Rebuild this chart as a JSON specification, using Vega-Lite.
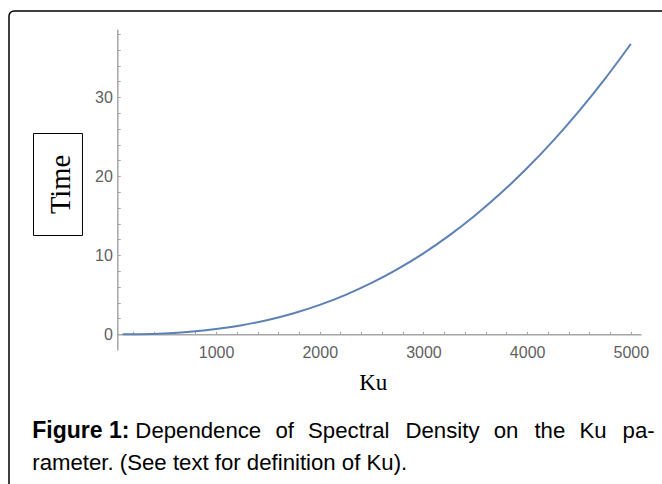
{
  "$schema": "https://vega.github.io/schema/vega-lite/v6.json",
  "width": 663,
  "height": 483,
  "autosize": "none",
  "padding": {"left": 9, "top": 11, "right": 0, "bottom": 0},
  "background": "white",
  "config": {
    "view": {"stroke": "black", "strokeWidth": 1.5, "cornerRadius": 5, "fill": "white"}
  },
  "data": {
    "values": [
      {"Ku": 100, "Time": 0.002},
      {"Ku": 250, "Time": 0.021},
      {"Ku": 500, "Time": 0.116},
      {"Ku": 750, "Time": 0.320},
      {"Ku": 1000, "Time": 0.657},
      {"Ku": 1250, "Time": 1.148},
      {"Ku": 1500, "Time": 1.812},
      {"Ku": 1750, "Time": 2.663},
      {"Ku": 2000, "Time": 3.719},
      {"Ku": 2250, "Time": 4.992},
      {"Ku": 2500, "Time": 6.497},
      {"Ku": 2750, "Time": 8.245},
      {"Ku": 3000, "Time": 10.248},
      {"Ku": 3250, "Time": 12.518},
      {"Ku": 3500, "Time": 15.066},
      {"Ku": 3750, "Time": 17.902},
      {"Ku": 4000, "Time": 21.037},
      {"Ku": 4250, "Time": 24.480},
      {"Ku": 4500, "Time": 28.240},
      {"Ku": 4750, "Time": 32.326},
      {"Ku": 5000, "Time": 36.75}
    ]
  },
  "mark": {"type": "line", "color": "#5e81b5", "strokeWidth": 2, "interpolate": "monotone"},
  "encoding": {
    "x": {
      "field": "Ku",
      "type": "quantitative",
      "scale": {"domain": [48, 5098], "range": [108.3, 632], "nice": false, "zero": false},
      "axis": {
        "orient": "bottom",
        "offset": -159.7,
        "grid": false,
        "values": [200, 400, 600, 800, 1000, 1200, 1400, 1600, 1800, 2000, 2200, 2400, 2600, 2800, 3000, 3200, 3400, 3600, 3800, 4000, 4200, 4400, 4600, 4800, 5000],
        "format": "d",
        "labelExpr": "datum.value % 1000 === 0 ? datum.label : ''",
        "labelFlush": false,
        "labelOverlap": false,
        "tickSize": -3,
        "labelPadding": 13.4,
        "labelFont": "Liberation Sans",
        "labelFontSize": 16,
        "labelColor": "#5f5f5f",
        "domainColor": "#a6a6a6",
        "domainWidth": 1.5,
        "tickColor": "#a6a6a6",
        "tickWidth": 1,
        "title": "Ku",
        "titleFont": "Liberation Serif",
        "titleFontSize": 23,
        "titleFontWeight": "normal",
        "titleColor": "black",
        "titleX": 363.8,
        "titleY": 55,
        "titleAlign": "center",
        "titleBaseline": "alphabetic"
      }
    },
    "y": {
      "field": "Time",
      "type": "quantitative",
      "scale": {"domain": [-2, 38.6], "range": [339.1, 18.3], "nice": false, "zero": false},
      "axis": {
        "orient": "left",
        "offset": -108.3,
        "grid": false,
        "values": [0, 2, 4, 6, 8, 10, 12, 14, 16, 18, 20, 22, 24, 26, 28, 30, 32, 34, 36, 38],
        "format": "d",
        "labelExpr": "datum.value % 10 === 0 ? datum.label : ''",
        "labelFlush": false,
        "labelOverlap": false,
        "tickSize": -3,
        "labelPadding": 8,
        "labelFont": "Liberation Sans",
        "labelFontSize": 16,
        "labelColor": "#5f5f5f",
        "domainColor": "#a6a6a6",
        "domainWidth": 1.5,
        "tickColor": "#a6a6a6",
        "tickWidth": 1,
        "title": null
      }
    },
    "opacity": {
      "datum": "Time",
      "type": "nominal",
      "scale": {"range": [1]},
      "legend": {
        "orient": "none",
        "legendX": -2.52,
        "legendY": 122,
        "title": null,
        "padding": 0,
        "symbolType": "M-0.48,-1H0.48V1H-0.48Z",
        "symbolSize": 10404,
        "symbolStrokeWidth": 1,
        "symbolStrokeColor": "black",
        "symbolFillColor": "transparent",
        "labelOffset": -48,
        "labelFont": "Liberation Serif",
        "labelFontSize": 28.5,
        "labelColor": "black",
        "labelAlign": "center",
        "labelBaseline": "middle",
        "encode": {
          "symbols": {"update": {"stroke": {"value": "#000000"}, "fill": {"value": "transparent"}, "strokeWidth": {"value": 1}, "opacity": {"value": 1}}},
          "labels": {"update": {"angle": {"value": -90}}}
        }
      }
    }
  },
  "title": {
    "text": "Figure 1:",
    "subtitle": ["\u200b\u00a0\u00a0\u00a0\u00a0\u00a0\u00a0\u00a0\u00a0\u00a0\u00a0\u00a0\u00a0\u00a0\u00a0\u00a0\u00a0\u2009Dependence \u00a0\u200aof \u00a0\u200aSpectral \u00a0\u200a\u200aDensity \u00a0\u200aon \u00a0\u200a\u200athe \u00a0\u200aKu \u00a0\u200a\u200apa-", "rameter. (See text for definition of Ku)."],
    "orient": "bottom",
    "anchor": "start",
    "frame": "group",
    "offset": -74,
    "dx": 23.3,
    "font": "Liberation Sans",
    "fontSize": 23,
    "fontWeight": "bold",
    "color": "black",
    "subtitleFont": "Liberation Sans",
    "subtitleFontSize": 22.2,
    "subtitleFontWeight": "normal",
    "subtitleColor": "black",
    "subtitleLineHeight": 32.4,
    "subtitlePadding": -23
  }
}
